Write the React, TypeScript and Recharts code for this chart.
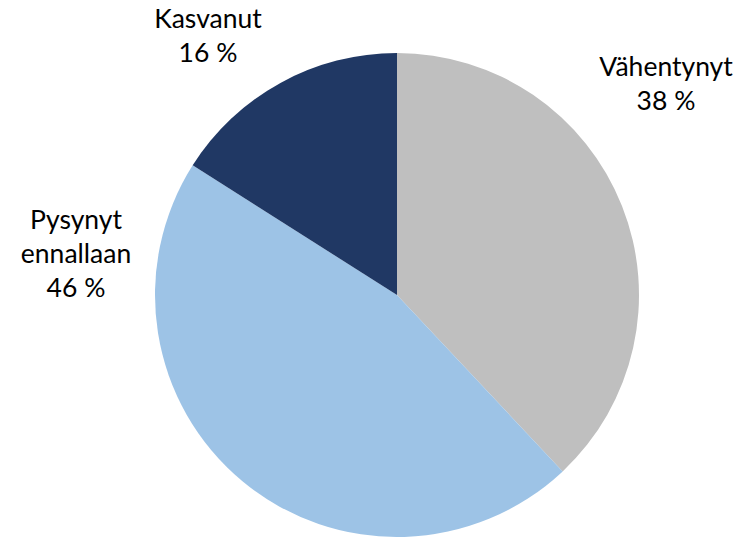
import { PieChart, Pie, Cell } from "recharts";

const categories = ["Vähentynyt", "Pysynyt ennallaan", "Kasvanut"];
const shares = [38, 46, 16];
const labelLines = [["Vähentynyt", "38 %"], ["Pysynyt", "ennallaan", "46 %"], ["Kasvanut", "16 %"]];

const colors = ["#BFBFBF", "#9DC3E6", "#203864"];
// label block placement relative to the pie centre (x of text middle, y of first baseline)
const labelOffsets = [
  { dx: 269, dy: -219 },
  { dx: -321, dy: -66 },
  { dx: -189, dy: -267 },
];

const data = categories.map((name, i) => ({ name, value: shares[i] }));

function renderLabel(props: any) {
  const { cx, cy, index } = props;
  const off = labelOffsets[index];
  const lines = labelLines[index];
  return (
    <text
      x={cx + off.dx}
      y={cy + off.dy}
      textAnchor="middle"
      fill="#000"
      fontSize={26.5}
      fontFamily="Lato, 'Open Sans', sans-serif"
    >
      {lines.map((l, i) => (
        <tspan key={i} x={cx + off.dx} dy={i === 0 ? 0 : 34}>
          {l}
        </tspan>
      ))}
    </text>
  );
}

export default function App() {
  return (
    <div style={{ position: "absolute", left: 0, top: 0, background: "#fff" }}>
      <PieChart width={740} height={537} margin={{ top: 0, right: 0, bottom: 0, left: 0 }}>
        <Pie
          data={data}
          dataKey="value"
          nameKey="name"
          cx={397}
          cy={295}
          outerRadius={242}
          startAngle={90}
          endAngle={-270}
          stroke="none"
          label={renderLabel}
          labelLine={false}
          isAnimationActive={false}
        >
          {data.map((d, i) => (
            <Cell key={d.name} fill={colors[i]} />
          ))}
        </Pie>
      </PieChart>
    </div>
  );
}
